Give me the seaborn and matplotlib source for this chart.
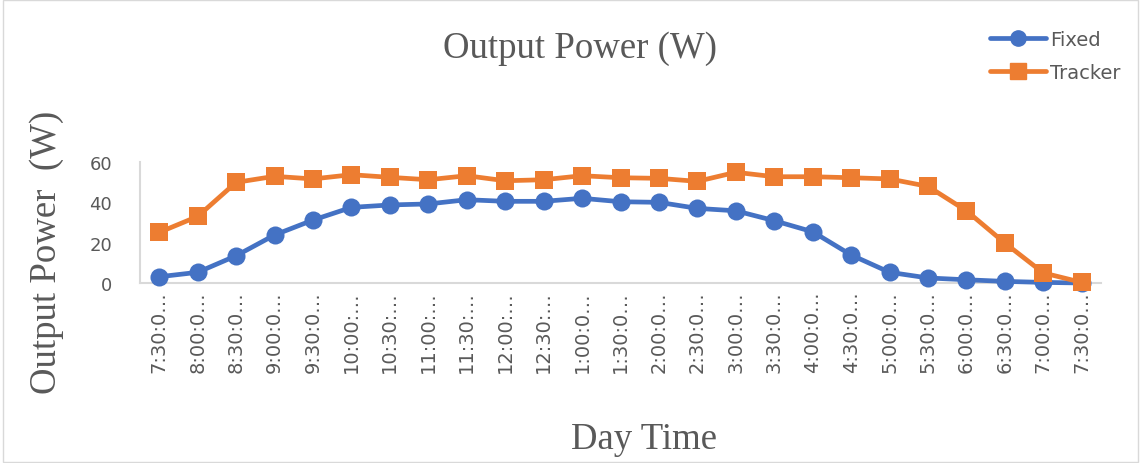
import matplotlib
matplotlib.use("Agg")
import matplotlib.pyplot as plt
import seaborn as sns
import pandas as pd
from matplotlib.patches import Rectangle
from matplotlib.lines import Line2D

times = ["7:30:00", "8:00:00", "8:30:00", "9:00:00", "9:30:00", "10:00:00", "10:30:00",
         "11:00:00", "11:30:00", "12:00:00", "12:30:00", "1:00:00", "1:30:00", "2:00:00",
         "2:30:00", "3:00:00", "3:30:00", "4:00:00", "4:30:00", "5:00:00", "5:30:00",
         "6:00:00", "6:30:00", "7:00:00", "7:30:00"]
fixed = [3.1, 5.3, 13.5, 23.8, 31.2, 37.5, 38.7, 39.2, 41.3, 40.5, 40.5, 42.0, 40.3, 40.0,
         37.0, 35.8, 30.9, 25.4, 13.9, 5.3, 2.5, 1.6, 0.8, 0.3, 0.0]
tracker = [25.1, 33.0, 49.9, 52.9, 51.6, 53.7, 52.4, 51.2, 53.2, 50.7, 51.2, 53.2, 52.2, 51.9,
           50.4, 54.9, 52.7, 52.7, 52.2, 51.6, 47.9, 35.8, 19.8, 5.0, 0.3]
yticks = [0, 20, 40, 60]

n = len(times)
df = pd.DataFrame({
    "time": list(range(n)) * 2,
    "power": fixed + tracker,
    "series": ["Fixed"] * n + ["Tracker"] * n,
})

sns.set_theme(style="white")
plt.rcParams["font.family"] = ["DejaVu Sans"]

fig = plt.figure(figsize=(11.41, 4.64), dpi=100)
ax = fig.add_axes([140 / 1141, 1 - 284 / 464, (1101 - 140) / 1141, (284 - 163) / 464])

blue = "#4472C4"
orange = "#ED7D31"
sns.lineplot(data=df, x="time", y="power", hue="series", style="series",
             hue_order=["Fixed", "Tracker"],
             palette={"Fixed": blue, "Tracker": orange},
             markers={"Fixed": "o", "Tracker": "s"}, dashes=False,
             linewidth=3.4, markersize=13, markeredgewidth=0, ax=ax, legend=False,
             clip_on=False, zorder=3)

ax.set_xlim(-0.5, n - 0.5)
ax.set_ylim(0, 60)
ax.set_yticks(yticks)
ax.set_yticklabels([str(v) for v in yticks], fontsize=13, color="#595959")
ax.set_xticks(range(n))
ax.set_xticklabels([t[:6] + "\u2026" for t in times], rotation=90, fontsize=14,
                   color="#595959", va="top")
ax.tick_params(axis="x", length=0, pad=5)
ax.tick_params(axis="y", length=0, pad=20)

for s in ["top", "right"]:
    ax.spines[s].set_visible(False)
for s in ["left", "bottom"]:
    ax.spines[s].set_color("#D9D9D9")
    ax.spines[s].set_linewidth(1.5)
ax.set_xlabel("")
ax.set_ylabel("")

serif = ["Liberation Serif", "DejaVu Serif"]
fig.text(580 / 1141, 1 - 49 / 464, "Output Power (W)", family=serif, fontsize=26.5,
         color="#595959", ha="center", va="center")
fig.text(644 / 1141, 1 - 440 / 464, "Day Time", family=serif, fontsize=26.5,
         color="#595959", ha="center", va="center")
fig.text(47 / 1141, 1 - 252 / 464, "Output Power  (W)", family=serif, fontsize=26.5,
         color="#595959", ha="center", va="center", rotation=90)

handles = [Line2D([], [], color=blue, marker="o", lw=3.4, markersize=11),
           Line2D([], [], color=orange, marker="s", lw=3.4, markersize=11)]
fig.legend(handles, ["Fixed", "Tracker"], loc="upper left",
           bbox_to_anchor=(990 / 1141, 1 - 31 / 464), frameon=False,
           fontsize=14, labelcolor="#595959", handlelength=2.9, handletextpad=0.2,
           labelspacing=0.7, borderpad=0, borderaxespad=0)

fig.patches.append(Rectangle((0.003, 0.003), 0.994, 0.994, transform=fig.transFigure,
                             fill=False, edgecolor="#D9D9D9", lw=1))

fig.savefig("out.png", dpi=100)
